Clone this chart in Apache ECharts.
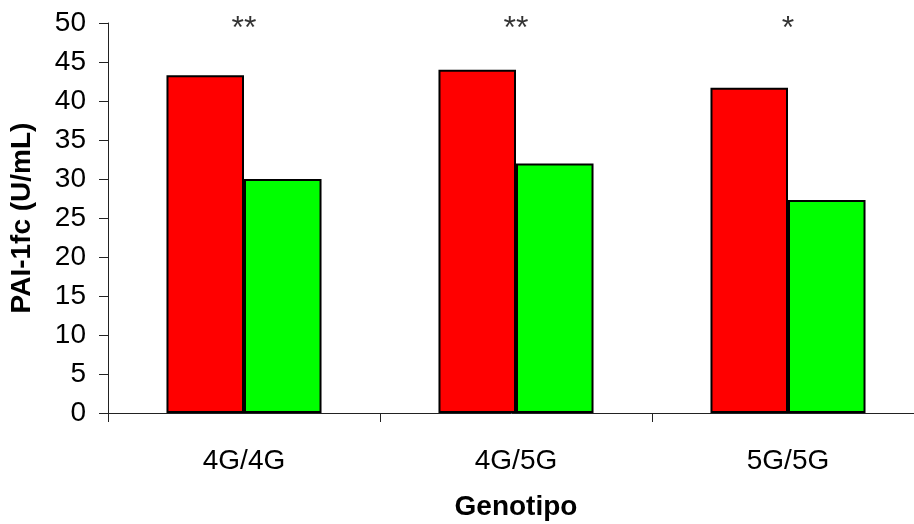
<!DOCTYPE html>
<html>
<head>
<meta charset="utf-8">
<script src="https://cdn.jsdelivr.net/npm/echarts@6/dist/echarts.min.js"></script>
<style>
html, body { margin: 0; padding: 0; background: #fff; }
#echarts { width: 914px; height: 524px; }
</style>
</head>
<body>
<div id="echarts"></div>
<script>
var categories = ['4G/4G', '4G/5G', '5G/5G'];
var redValues = [43.3, 44.0, 41.7];
var greenValues = [30.0, 32.0, 27.3];
var stars = ['**', '**', '*'];
var yTicks = { min: 0, max: 50, interval: 5 };

var myChart = echarts.init(document.getElementById('echarts'));

var font = 'Liberation Sans, Arial, sans-serif';

var option = {
    animation: false,
    backgroundColor: '#fff',
    grid: {
        left: 108,
        top: 23,
        bottom: 111,
        width: 816,
        outerBoundsMode: 'none',
        containLabel: false
    },
    xAxis: {
        type: 'category',
        data: categories,
        name: 'Genotipo',
        nameLocation: 'middle',
        nameGap: 80,
        nameTextStyle: {
            fontFamily: font,
            fontSize: 28,
            fontWeight: 'bold',
            color: '#000'
        },
        axisLine: { lineStyle: { color: '#222', width: 1 } },
        axisTick: { show: true, length: 9, lineStyle: { color: '#222' } },
        axisLabel: {
            fontFamily: font,
            fontSize: 28,
            color: '#000',
            margin: 34
        }
    },
    yAxis: {
        type: 'value',
        min: yTicks.min,
        max: yTicks.max,
        interval: yTicks.interval,
        name: 'PAI-1fc (U/mL)',
        nameLocation: 'middle',
        nameGap: 72,
        nameTextStyle: {
            fontFamily: font,
            fontSize: 28,
            fontWeight: 'bold',
            color: '#000'
        },
        splitLine: { show: false },
        axisLine: { show: true, lineStyle: { color: '#222', width: 1 } },
        axisTick: { show: true, length: 9, lineStyle: { color: '#222' } },
        axisLabel: {
            fontFamily: font,
            fontSize: 28,
            color: '#000',
            margin: 22
        }
    },
    series: [
        {
            type: 'bar',
            data: redValues,
            barGap: '0%',
            barCategoryGap: '43%',
            itemStyle: {
                color: '#ff0000',
                borderColor: '#000',
                borderWidth: 2
            }
        },
        {
            type: 'bar',
            data: greenValues,
            itemStyle: {
                color: '#00ff00',
                borderColor: '#000',
                borderWidth: 2
            }
        },
        {
            type: 'scatter',
            symbolSize: 0,
            data: stars.map(function (s, i) { return [categories[i], 50]; }),
            label: {
                show: true,
                position: 'inside',
                offset: [0, 6],
                fontFamily: font,
                fontSize: 32,
                color: '#000',
                formatter: function (p) { return stars[p.dataIndex]; }
            },
            silent: true
        }
    ]
};

myChart.setOption(option);
</script>
</body>
</html>
